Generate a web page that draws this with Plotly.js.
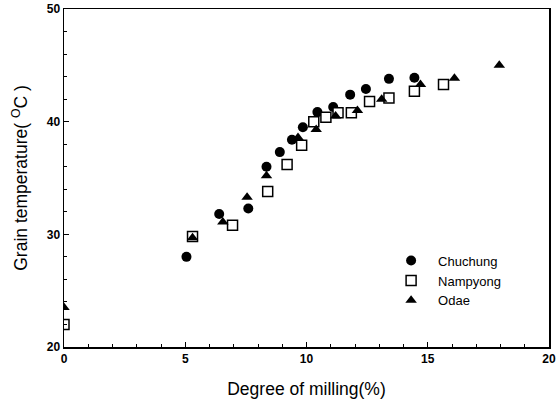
<!DOCTYPE html>
<html>
<head>
<meta charset="utf-8">
<script src="https://cdn.plot.ly/plotly-3.0.1.min.js"></script>
<style>html,body{margin:0;padding:0;background:#fff;}#chart{width:559px;height:404px;}</style>
</head>
<body>
<div id="chart"></div>
<script>
const chuchungX = [5.05, 6.4, 7.6, 8.35, 8.9, 9.4, 9.85, 10.45, 11.1, 11.8, 12.45, 13.4, 14.45];
const chuchungY = [28.0, 31.8, 32.3, 36.0, 37.3, 38.4, 39.5, 40.85, 41.3, 42.4, 42.9, 43.8, 43.9];
const nampyongX = [0, 5.3, 6.95, 8.4, 9.2, 9.8, 10.3, 10.8, 11.3, 11.85, 12.6, 13.4, 14.45, 15.65];
const nampyongY = [22.0, 29.8, 30.8, 33.8, 36.2, 37.9, 40.0, 40.4, 40.8, 40.8, 41.8, 42.1, 42.7, 43.3];
const odaeX = [0, 5.3, 6.55, 7.55, 8.35, 9.65, 10.4, 11.2, 12.1, 13.1, 14.7, 16.1, 17.95];
const odaeY = [23.5, 29.7, 31.1, 33.3, 35.2, 38.6, 39.3, 40.5, 41.0, 42.0, 43.3, 43.85, 45.0];
const xTicks = [0, 5, 10, 15, 20];
const yTicks = [20, 30, 40, 50];

const font = "Liberation Sans, Arial, sans-serif";
const traces = [
  {x: chuchungX, y: chuchungY, name: "Chuchung", mode: "markers", type: "scatter",
   marker: {symbol: "circle", size: 10, color: "#000"}},
  {x: nampyongX, y: nampyongY, name: "Nampyong", mode: "markers", type: "scatter",
   marker: {symbol: "square", size: 10, color: "#fff", line: {color: "#000", width: 1.5}}},
  {x: odaeX, y: odaeY, name: "Odae", mode: "markers", type: "scatter",
   marker: {symbol: "triangle-up", size: 10, color: "#000"}}
];
const axisCommon = {
  showgrid: false, zeroline: false, showline: true, linecolor: "#000", linewidth: 1.5,
  mirror: true, ticks: "inside", ticklen: 5, tickcolor: "#000", tickwidth: 1,
  tickfont: {family: font, size: 12, color: "#000", weight: "bold"}
};
const layout = {
  width: 559, height: 404,
  margin: {l: 64, r: 10, t: 9, b: 57},
  paper_bgcolor: "#fff", plot_bgcolor: "#fff",
  showlegend: true,
  legend: {x: 0.66, y: 0.3, xanchor: "left", yanchor: "top", bgcolor: "rgba(0,0,0,0)",
           font: {family: font, size: 13, color: "#000"}, tracegroupgap: 0, itemwidth: 44},
  xaxis: Object.assign({}, axisCommon, {
    range: [0, 20], tickvals: xTicks, ticktext: xTicks.map(String),
    minor: {dtick: 1, ticks: "inside", ticklen: 3, tickcolor: "#000"},
    title: {text: "Degree of milling(%)", font: {family: font, size: 17.5, color: "#000"}, standoff: 18}
  }),
  yaxis: Object.assign({}, axisCommon, {
    range: [20, 50], tickvals: yTicks, ticktext: yTicks.map(String),
    minor: {dtick: 2, ticks: "inside", ticklen: 3, tickcolor: "#000"},
    title: {text: "Grain temperature( <sup>O</sup>C )", font: {family: font, size: 17.5, color: "#000"}, standoff: 14}
  })
};
Plotly.newPlot("chart", traces, layout, {displayModeBar: false, staticPlot: true});
</script>
</body>
</html>
